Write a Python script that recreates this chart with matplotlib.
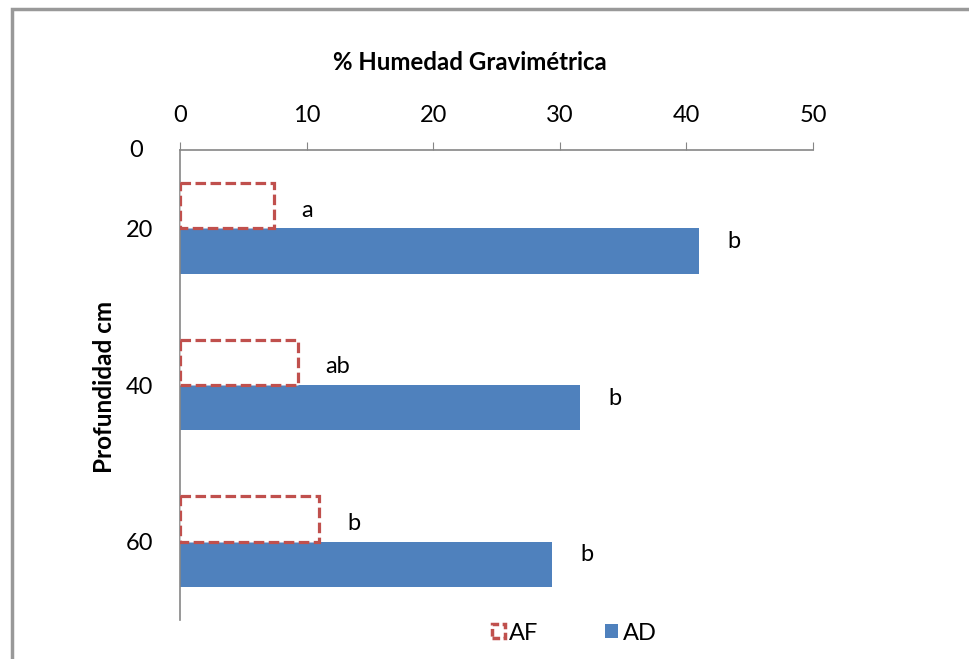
import matplotlib.pyplot as plt
from matplotlib.patches import Patch, Rectangle

plt.rcParams['font.family'] = ['Lato', 'DejaVu Sans']

depths = ["20", "40", "60"]
af = [7.4, 9.3, 11.0]
ad = [41.0, 31.6, 29.4]
af_letters = ["a", "ab", "b"]
ad_letters = ["b", "b", "b"]

blue = "#4F81BD"
red = "#C0504D"
grey = "#868686"

fig = plt.figure(figsize=(9.7, 6.59), dpi=100)
ax = fig.add_axes([180/970, 1 - 620/659, 633/970, 470/659])

pos = list(range(len(depths)))
h = 0.29
ax.barh([p - h/2 for p in pos], af, height=h, facecolor="white", edgecolor=red,
        linewidth=2.3, linestyle=(0, (3.3, 1.4)), zorder=3)
ax.barh([p + h/2 for p in pos], ad, height=h, color=blue, zorder=2)

# letras de significancia
for p, v, t in zip(pos, af, af_letters):
    ax.annotate(t, (v, p - h/2 + 0.03), xytext=(28, 0), textcoords="offset pixels",
                ha="left", va="center", fontsize=17)
for p, v, t in zip(pos, ad, ad_letters):
    ax.annotate(t, (v, p + h/2 - 0.06), xytext=(28, 0), textcoords="offset pixels",
                ha="left", va="center", fontsize=17)

ax.set_xlim(0, 50)
ax.set_ylim(2.5, -0.5)
ax.xaxis.tick_top()
ax.set_xticks([0, 10, 20, 30, 40, 50])
ax.tick_params(axis="x", direction="out", length=6, color=grey, labelsize=17, pad=11)
ax.set_yticks(pos)
ax.set_yticklabels(depths)
ax.tick_params(axis="y", length=0, labelsize=17, pad=19.5)
for s in ["right", "bottom"]:
    ax.spines[s].set_visible(False)
for s in ["left", "top"]:
    ax.spines[s].set_color(grey)
    ax.spines[s].set_linewidth(1.2)

ax.text(-0.0695, 0.998, "0", transform=ax.transAxes, ha="center", va="center", fontsize=17)

fig.text(470/970, 1 - 62/659, "% Humedad Gravimétrica", ha="center", va="center",
         fontsize=17.3, fontweight="bold")
fig.text(105/970, 1 - 387/659, "Profundidad cm", ha="center", va="center",
         rotation=90, fontsize=17.5, fontweight="bold")

handles = [Patch(facecolor="white", edgecolor=red, linewidth=2.5, linestyle=(0, (2.2, 1.0))),
           Patch(facecolor=blue)]
fig.legend(handles, ["AF", "AD"], loc="center", bbox_to_anchor=(574/970, 1 - 633/659),
           ncol=2, frameon=False, fontsize=17, handlelength=0.55, handleheight=0.5,
           handletextpad=0.2, columnspacing=2.8)

# borde gris del recuadro
fig.patches.append(Rectangle((12/970, -0.05), 1.0, 1 - 9/659 + 0.05, transform=fig.transFigure,
                             fill=False, edgecolor="#999999", linewidth=2.5))

fig.savefig("out.png", dpi=100)
